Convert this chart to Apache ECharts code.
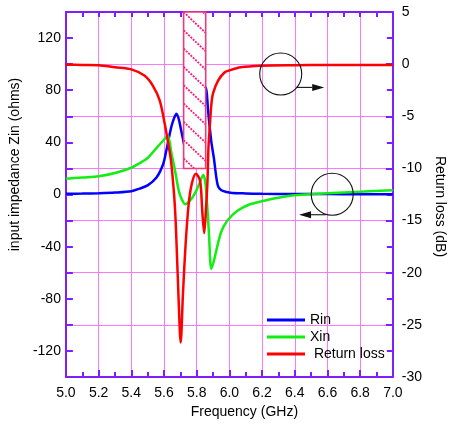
<!DOCTYPE html>
<html>
<head>
<meta charset="utf-8">
<script src="https://cdn.jsdelivr.net/npm/echarts@6/dist/echarts.min.js"></script>
<style>
html,body{margin:0;padding:0;background:#fff;}
#chart{width:455px;height:425px;}
</style>
</head>
<body>
<div id="chart"></div>
<script>
// ---- data ----
const rinFreq = [5.0,5.1,5.2,5.3,5.4,5.45,5.5,5.554,5.594,5.613,5.643,5.66,5.676,5.69,5.702,5.722,5.74,5.77,5.80,5.83,5.85,5.858,5.87,5.889,5.905,5.919,5.929,5.94,5.959,6.006,6.1,6.2,6.4,6.6,6.8,7.0];
const rinVals = [0.5,0.7,1.0,1.5,2.5,4.5,7.0,13,23,33,51,58,62,58,51,39,30,26,30,45,70,82,64,41,28,14,7,4.5,2.8,1.4,0.8,0.5,0.3,0.3,0.2,0.2];

const xinFreq = [5.0,5.1,5.2,5.3,5.4,5.45,5.5,5.556,5.6,5.623,5.645,5.665,5.69,5.71,5.73,5.76,5.79,5.815,5.84,5.852,5.865,5.875,5.889,5.905,5.919,5.949,5.988,6.047,6.126,6.205,6.3,6.4,6.6,6.8,7.0];
const xinVals = [12,13,14,16.5,20.5,24,28,36,42,45,32,20,3,-4,-7.5,-4.5,1,8,15,10,-10,-30,-57,-51,-43.5,-29,-20,-12.7,-7.5,-5,-2.5,-0.6,0.9,2.2,3.2];

const rlFreq = [5.0,5.1,5.2,5.3,5.4,5.48,5.533,5.574,5.604,5.628,5.643,5.663,5.673,5.688,5.702,5.716,5.732,5.751,5.771,5.795,5.821,5.834,5.846,5.856,5.866,5.872,5.88,5.89,5.9,5.93,5.97,6.0,6.07,6.19,6.4,6.6,6.8,7.0];
const rlVals = [-0.05,-0.08,-0.1,-0.3,-0.5,-1.1,-2.1,-3.5,-5.7,-7.8,-9.3,-12.8,-15.7,-22,-26.7,-22,-17.3,-13.4,-11.4,-10.5,-11.2,-14.1,-16.2,-14.1,-11.2,-8,-6,-3.8,-2.8,-1.6,-0.8,-0.6,-0.3,-0.15,-0.1,-0.08,-0.08,-0.08];

// hatched band: [fStart, dBTop, fEnd, dBBottom]
const bandRange = [5.72, 5, 5.855, -10];
// annotation circles (centre: freq, dB) and arrows (from freq,dB to freq,dB)
const circleCentres = [[6.314, -0.94], [6.629, -12.48]];
const arrowLines = [[6.412, -2.23, 6.58, -2.23], [6.59, -14.44, 6.426, -14.44]];

const seriesNames = ['Rin', 'Xin', 'Return loss'];

// ---- styles ----
const AX = '#7f1fff';
const GRID = '#ff77ff';
const FONT = 'Liberation Sans, Arial, Helvetica, sans-serif';

const chart = echarts.init(document.getElementById('chart'), null, {renderer: 'canvas'});

function pairs(xs, ys) { return xs.map((x, i) => [x, ys[i]]); }

const option = {
  animation: false,
  backgroundColor: '#fff',
  textStyle: {fontFamily: FONT},
  grid: {left: 63, right: 54, top: 12, bottom: 48},
  legend: {
    data: seriesNames,
    orient: 'vertical',
    left: 262, top: 308,
    itemWidth: 38, itemHeight: 3, itemGap: 3,
    icon: 'rect',
    textStyle: {fontSize: 14, color: '#000', fontFamily: FONT, lineHeight: 14},
    formatter: n => n === 'Return loss' ? ' ' + n : n
  },
  xAxis: [{
    type: 'value', min: 5, max: 7, interval: 0.2, position: 'bottom',
    axisLine: {onZero: false, lineStyle: {color: AX, width: 2}},
    axisTick: {inside: true, length: 7, lineStyle: {color: AX, width: 2}},
    minorTick: {show: true, splitNumber: 2, length: 5, lineStyle: {color: AX, width: 2}},
    splitLine: {show: true, lineStyle: {color: GRID, width: 1}},
    axisLabel: {color: '#000', fontSize: 14, margin: 9, fontFamily: FONT, formatter: v => v.toFixed(1)},
    name: 'Frequency (GHz)', nameLocation: 'middle', nameGap: 28,
    nameTextStyle: {color: '#000', fontSize: 14, fontFamily: FONT, padding: [0, 0, 0, 30]}
  }, {
    type: 'value', min: 5, max: 7, interval: 0.2, position: 'top',
    axisLine: {onZero: false, lineStyle: {color: AX, width: 2}},
    axisTick: {inside: true, length: 5, lineStyle: {color: AX, width: 2}},
    minorTick: {show: true, splitNumber: 2, length: 5, lineStyle: {color: AX, width: 2}},
    splitLine: {show: false},
    axisLabel: {show: false}
  }],
  yAxis: [{
    type: 'value', min: -140, max: 140, interval: 20, position: 'left',
    axisLine: {show: true, onZero: false, lineStyle: {color: AX, width: 2}},
    axisTick: {show: true, inside: true, length: 7, lineStyle: {color: AX, width: 2}},
    splitLine: {show: false},
    axisLabel: {color: '#000', fontSize: 14, margin: 5, fontFamily: FONT,
      formatter: v => (Math.round(v) % 40 === 0 && Math.abs(v) <= 120) ? String(Math.round(v)) : ''},
    name: 'input impedance Zin (ohms)', nameLocation: 'middle', nameGap: 40,
    nameTextStyle: {color: '#000', fontSize: 14, fontFamily: FONT, padding: [0, 0, 0, 60]}
  }, {
    type: 'value', min: -30, max: 5, interval: 5, position: 'right',
    axisLine: {show: true, onZero: false, lineStyle: {color: AX, width: 2}},
    axisTick: {show: true, inside: true, length: 7, lineStyle: {color: AX, width: 2}},
    minorTick: {show: true, splitNumber: 2, length: 6, lineStyle: {color: AX, width: 2}},
    splitLine: {show: true, lineStyle: {color: GRID, width: 1}},
    axisLabel: {color: '#000', fontSize: 14, margin: 9, fontFamily: FONT},
    name: 'Return loss (dB)', nameLocation: 'middle', nameGap: 38, nameRotate: -90,
    nameTextStyle: {color: '#000', fontSize: 14, fontFamily: FONT, padding: [0, 0, 0, 24]}
  }],
  series: [{
    name: 'Rin', type: 'line', xAxisIndex: 0, yAxisIndex: 0,
    data: pairs(rinFreq, rinVals), symbol: 'none', smooth: 0.3,
    lineStyle: {color: '#0000ff', width: 2.5}, itemStyle: {color: '#0000ff'}, z: 3
  }, {
    name: 'Xin', type: 'line', xAxisIndex: 0, yAxisIndex: 0,
    data: pairs(xinFreq, xinVals), symbol: 'none', smooth: 0.3,
    lineStyle: {color: '#11ee11', width: 2.5}, itemStyle: {color: '#11ee11'}, z: 3
  }, {
    name: 'Return loss', type: 'line', xAxisIndex: 0, yAxisIndex: 1,
    data: pairs(rlFreq, rlVals), symbol: 'none', smooth: 0.3,
    lineStyle: {color: '#ff0000', width: 2.5}, itemStyle: {color: '#ff0000'}, z: 4
  }, {
    name: 'band', type: 'custom', xAxisIndex: 0, yAxisIndex: 1, z: 10, silent: true,
    data: [bandRange],
    encode: {x: [0, 2], y: [1, 3]},
    renderItem: function (params, api) {
      const p1 = api.coord([api.value(0), api.value(1)]);
      const p2 = api.coord([api.value(2), api.value(3)]);
      const xL = Math.min(p1[0], p2[0]), xR = Math.max(p1[0], p2[0]);
      const yT = Math.min(p1[1], p2[1]), yB = Math.max(p1[1], p2[1]);
      const w = xR - xL, h = yB - yT;
      const children = [{type: 'rect', shape: {x: xL, y: yT, width: w, height: h},
        style: {fill: '#fff', stroke: 'none'}}];
      const s = 0.95, gap = 18.3;
      for (let k = Math.floor(-s * w / gap); k * gap < h; k++) {
        const c = k * gap;
        const x1 = Math.max(xL, xL - c / s);
        const x2 = Math.min(xR, xL + (h - c) / s);
        if (x2 > x1) {
          children.push({type: 'line',
            shape: {x1: x1, y1: yT + c + s * (x1 - xL), x2: x2, y2: yT + c + s * (x2 - xL)},
            style: {stroke: '#ff1a7a', lineWidth: 1.8, lineDash: [2, 1.2]}});
        }
      }
      children.push({type: 'rect', shape: {x: xL, y: yT, width: w, height: h},
        style: {fill: 'none', stroke: '#ee3a7a', lineWidth: 1.6}});
      return {type: 'group', children: children};
    }
  }, {
    name: 'circles', type: 'custom', xAxisIndex: 0, yAxisIndex: 1, z: 11, silent: true,
    data: circleCentres,
    renderItem: function (params, api) {
      const p = api.coord([api.value(0), api.value(1)]);
      return {type: 'circle', shape: {cx: p[0], cy: p[1], r: 21},
        style: {fill: 'none', stroke: '#111', lineWidth: 1.1}};
    }
  }, {
    name: 'arrows', type: 'custom', xAxisIndex: 0, yAxisIndex: 1, z: 11, silent: true,
    data: arrowLines,
    encode: {x: [0, 2], y: [1, 3]},
    renderItem: function (params, api) {
      const a = api.coord([api.value(0), api.value(1)]);
      const b = api.coord([api.value(2), api.value(3)]);
      const dx = b[0] - a[0], dy = b[1] - a[1];
      const L = Math.sqrt(dx * dx + dy * dy) || 1;
      const ux = dx / L, uy = dy / L;
      const hl = 12, hw = 3.5;
      const bx = b[0] - ux * hl, by = b[1] - uy * hl;
      return {type: 'group', children: [
        {type: 'line', shape: {x1: a[0], y1: a[1], x2: bx, y2: by},
          style: {stroke: '#111', lineWidth: 1.1}},
        {type: 'polygon', shape: {points: [[b[0], b[1]], [bx - uy * hw, by + ux * hw], [bx + uy * hw, by - ux * hw]]},
          style: {fill: '#111'}}
      ]};
    }
  }]
};
chart.setOption(option);
</script>
</body>
</html>
